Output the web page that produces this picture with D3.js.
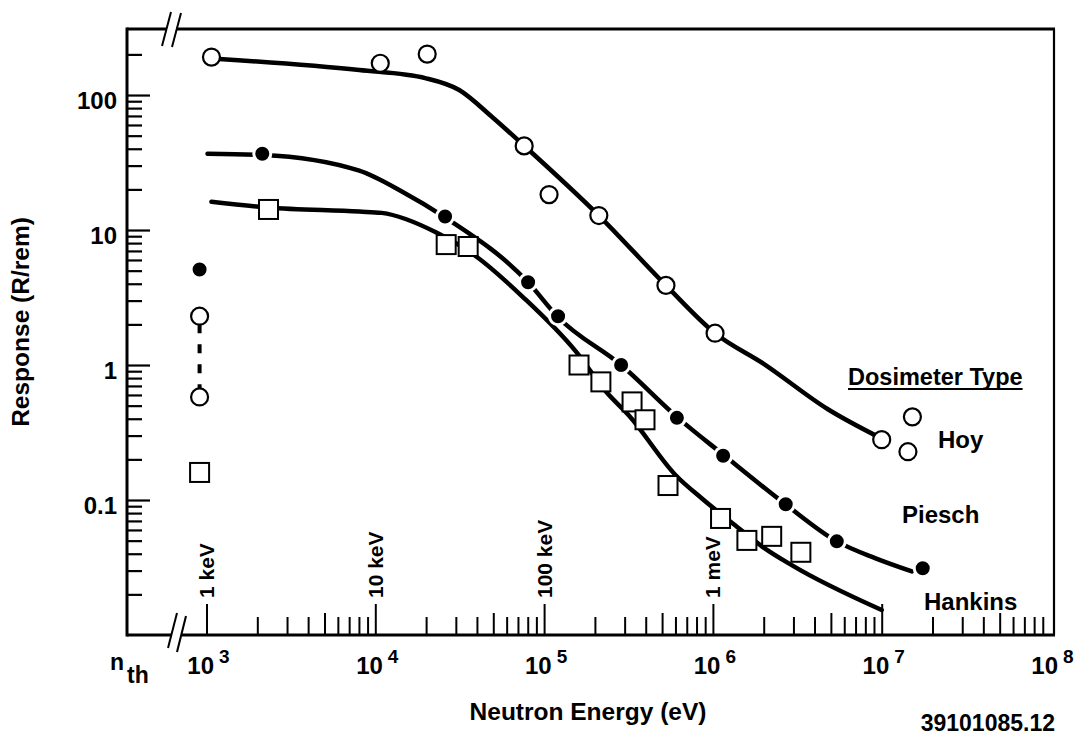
<!DOCTYPE html>
<html>
<head>
<meta charset="utf-8">
<script src="https://cdn.jsdelivr.net/npm/d3@7.9.0/dist/d3.min.js"></script>
<style>
  body { margin: 0; background: #fff; }
  svg { display: block; font-family: "Liberation Sans", Arial, Helvetica, sans-serif; font-weight: bold; }
</style>
</head>
<body>
<svg id="chart" width="1082" height="737"></svg>
<script>
// ---- data: [energy (eV), response (R/rem)] ----
const hoyPoints = [[1070, 191], [10700, 172], [20300, 201], [76200, 42], [107000, 18.3],
  [211000, 12.8], [527000, 3.89], [1.03e6, 1.72], [1.0e7, 0.28], [1.52e7, 0.413], [1.43e7, 0.228]];
const hoyCurve = [[1190, 185], [8040, 153], [20000, 133], [31400, 109], [49200, 68.8], [76200, 42.1],
  [211000, 12.8], [527000, 3.89], [1.03e6, 1.72], [2.0e6, 1.02], [4.8e6, 0.47], [1.0e7, 0.285]];

const pieschPoints = [[2140, 36.7], [25900, 12.6], [80400, 4.1], [121000, 2.3], [286000, 1.0],
  [612000, 0.406], [1.15e6, 0.213], [2.7e6, 0.093], [5.42e6, 0.0494], [1.75e7, 0.0312]];
const pieschCurve = [[1014, 36.7], [2140, 36.0], [8040, 27.5], [14450, 19.2], [25900, 12.4], [80400, 4.1],
  [121000, 2.26], [286000, 1.0], [621000, 0.406], [1.15e6, 0.217], [2.7e6, 0.0927], [5.42e6, 0.0494],
  [9.21e6, 0.037], [1.51e7, 0.0296]];

const hankinsPoints = [[2330, 14.2], [26300, 7.8], [35500, 7.55], [161000, 1.0], [217000, 0.75],
  [332000, 0.533], [396000, 0.393], [542000, 0.128], [1.11e6, 0.073], [1.59e6, 0.0502],
  [2.23e6, 0.0538], [3.32e6, 0.041]];
const hankinsCurve = [[1070, 16.2], [2300, 14.7], [8040, 13.7], [10900, 13.4], [23000, 9.59], [39600, 6.37],
  [74100, 3.23], [155000, 1.25], [233000, 0.633], [319000, 0.421], [604000, 0.152], [861000, 0.1026],
  [1.43e6, 0.0616], [1.95e6, 0.0454], [2.93e6, 0.0329], [1.0e7, 0.0153]];

// thermal-neutron responses, drawn left of the 1 keV tick past the axis break
const thermalPlotE = 910;
const thermalHoy = [2.3, 0.58];
const thermalPiesch = [5.1];
const thermalHankins = [0.16];

// axis labels
const xExponents = [3, 4, 5, 6, 7, 8];
const energyMarks = [1e3, 1e4, 1e5, 1e6];
const energyNames = ["1 keV", "10 keV", "100 keV", "1 meV"];
const yMajors = [0.1, 1, 10, 100];
const yLabels = ["0.1", "1", "10", "100"];
const seriesNames = ["Hoy", "Piesch", "Hankins"];

// ---- layout ----
const frame = { left: 127, right: 1054, top: 29, bottom: 635 };
const svg = d3.select("#chart");

const x = d3.scaleLog().domain([1e3, 1e8]).range([206.5, 1050.5]);
const y = d3.scaleLog().domain([0.01, 310]).range([frame.bottom, 28.7]);

// tick lists
const xTicks = [];
for (let n = 3; n <= 7; n++) for (let k = 1; k <= 9; k++) xTicks.push(k * Math.pow(10, n));
const yTicks = [];
for (let n = -2; n <= 2; n++) for (let k = 1; k <= 9; k++) {
  const v = k * Math.pow(10, n);
  if (v > 0.011 && v <= 200) yTicks.push(+v.toPrecision(3));
}

const isPow10 = v => Math.abs(Math.log10(v) - Math.round(Math.log10(v))) < 1e-6;
const lead = v => Math.round(v / Math.pow(10, Math.floor(Math.log10(v) + 1e-9)));

// x ticks point up from the bottom frame
const xAxis = svg.append("g")
  .attr("transform", `translate(0,${frame.bottom})`)
  .call(d3.axisBottom(x).tickValues(xTicks).tickSizeOuter(0).tickFormat(""));
xAxis.select(".domain").remove();
xAxis.selectAll(".tick line")
  .attr("y2", d => isPow10(d) ? -31 : (lead(d) === 5 ? -22 : -18))
  .attr("stroke", "#000").attr("stroke-width", 2);

// y ticks point right from the left frame
const yAxis = svg.append("g")
  .attr("transform", `translate(${frame.left},0)`)
  .call(d3.axisLeft(y).tickValues(yTicks).tickSizeOuter(0).tickFormat(""));
yAxis.select(".domain").remove();
yAxis.selectAll(".tick line")
  .attr("x2", d => isPow10(d) ? 23 : 15)
  .attr("stroke", "#000").attr("stroke-width", 2.2);

// ---- frame with axis breaks ----
const g = svg.append("g").attr("stroke", "#000").attr("fill", "none");
g.append("line").attr("x1", frame.left).attr("x2", frame.left)
  .attr("y1", frame.top - 1.5).attr("y2", frame.bottom + 1.5).attr("stroke-width", 3);
g.append("line").attr("x1", frame.right).attr("x2", frame.right)
  .attr("y1", frame.top).attr("y2", frame.bottom).attr("stroke-width", 2.2);
// top
g.append("line").attr("x1", frame.left).attr("x2", 167).attr("y1", frame.top).attr("y2", frame.top).attr("stroke-width", 3.2);
g.append("line").attr("x1", 177).attr("x2", frame.right + 1).attr("y1", frame.top).attr("y2", frame.top).attr("stroke-width", 3.2);
g.append("line").attr("x1", 162).attr("y1", 46).attr("x2", 171).attr("y2", 12).attr("stroke-width", 2);
g.append("line").attr("x1", 172).attr("y1", 47).attr("x2", 181).attr("y2", 13).attr("stroke-width", 2);
// bottom
g.append("line").attr("x1", frame.left).attr("x2", 171).attr("y1", frame.bottom).attr("y2", frame.bottom).attr("stroke-width", 3.2);
g.append("line").attr("x1", 181).attr("x2", frame.right + 1).attr("y1", frame.bottom).attr("y2", frame.bottom).attr("stroke-width", 3.2);
g.append("line").attr("x1", 168).attr("y1", 648).attr("x2", 177).attr("y2", 613).attr("stroke-width", 2);
g.append("line").attr("x1", 177).attr("y1", 652).attr("x2", 186).attr("y2", 616).attr("stroke-width", 2);

// ---- curves ----
const line = d3.line().x(d => x(d[0])).y(d => y(d[1])).curve(d3.curveMonotoneX);
[hoyCurve, pieschCurve, hankinsCurve].forEach(c => {
  svg.append("path").datum(c).attr("d", line)
    .attr("fill", "none").attr("stroke", "#000").attr("stroke-width", 4.5)
    .attr("stroke-linecap", "round").attr("stroke-linejoin", "round");
});

// thermal Hoy range: dashed link
svg.append("line")
  .attr("x1", x(thermalPlotE)).attr("x2", x(thermalPlotE))
  .attr("y1", y(thermalHoy[0]) + 8).attr("y2", y(thermalHoy[1]) - 8)
  .attr("stroke", "#000").attr("stroke-width", 4).attr("stroke-dasharray", "9,11");

// ---- markers ----
const thermal = v => [thermalPlotE, v];

svg.append("g").selectAll("rect")
  .data(hankinsPoints.concat(thermalHankins.map(thermal)))
  .join("rect")
  .attr("x", d => x(d[0]) - 9.5).attr("y", d => y(d[1]) - 9.5)
  .attr("width", 19).attr("height", 19)
  .attr("fill", "#fff").attr("stroke", "#000").attr("stroke-width", 2);

svg.append("g").selectAll("circle")
  .data(pieschPoints.concat(thermalPiesch.map(thermal)))
  .join("circle")
  .attr("cx", d => x(d[0])).attr("cy", d => y(d[1])).attr("r", 8.5)
  .attr("fill", "#000").attr("stroke", "#fff").attr("stroke-width", 3);

svg.append("g").selectAll("circle")
  .data(hoyPoints.concat(thermalHoy.map(thermal)))
  .join("circle")
  .attr("cx", d => x(d[0])).attr("cy", d => y(d[1])).attr("r", 8.5)
  .attr("fill", "#fff").attr("stroke", "#000").attr("stroke-width", 2.2);

// ---- text ----
// y tick labels
svg.append("g").selectAll("text").data(yMajors).join("text")
  .attr("x", 117).attr("y", d => y(d) + 13.5)
  .attr("text-anchor", "end").attr("font-size", 24)
  .text((d, i) => yLabels[i]);

// x tick labels 10^n
const xl = svg.append("g").selectAll("text").data(xExponents).join("text")
  .attr("x", d => x(Math.pow(10, d)) + 2).attr("y", 674)
  .attr("text-anchor", "middle").attr("font-size", 24);
xl.append("tspan").text("10");
xl.append("tspan").attr("dx", 5).attr("dy", -11).attr("font-size", 19).text(d => d);

// energy names above major ticks
svg.append("g").selectAll("text").data(energyMarks).join("text")
  .attr("transform", d => `translate(${x(d)},598) rotate(-90)`)
  .attr("dy", "0.36em").attr("font-size", 21)
  .text((d, i) => energyNames[i]);

// n_th
svg.append("text").attr("x", 110).attr("y", 670).attr("font-size", 23).text("n");
svg.append("text").attr("x", 127).attr("y", 683).attr("font-size", 23).text("th");

// axis titles
svg.append("text").attr("x", 588).attr("y", 720).attr("text-anchor", "middle")
  .attr("font-size", 24.5).text("Neutron Energy (eV)");
svg.append("text").attr("transform", "translate(29,322) rotate(-90)").attr("text-anchor", "middle")
  .attr("font-size", 24.5).text("Response (R/rem)");

// legend / series names
const legendTitle = svg.append("text").attr("x", 848).attr("y", 385).attr("font-size", 23.5).text("Dosimeter Type");
const lw = legendTitle.node().getComputedTextLength();
svg.append("line").attr("x1", 848).attr("x2", 848 + lw).attr("y1", 389).attr("y2", 389)
  .attr("stroke", "#000").attr("stroke-width", 2);
const namePos = [[938, 448], [902, 523], [924, 610]];
svg.append("g").selectAll("text").data(seriesNames).join("text")
  .attr("x", (d, i) => namePos[i][0]).attr("y", (d, i) => namePos[i][1])
  .attr("font-size", 24).text(d => d);

svg.append("text").attr("x", 1055).attr("y", 731).attr("text-anchor", "end")
  .attr("font-size", 23).text("39101085.12");
</script>
</body>
</html>
